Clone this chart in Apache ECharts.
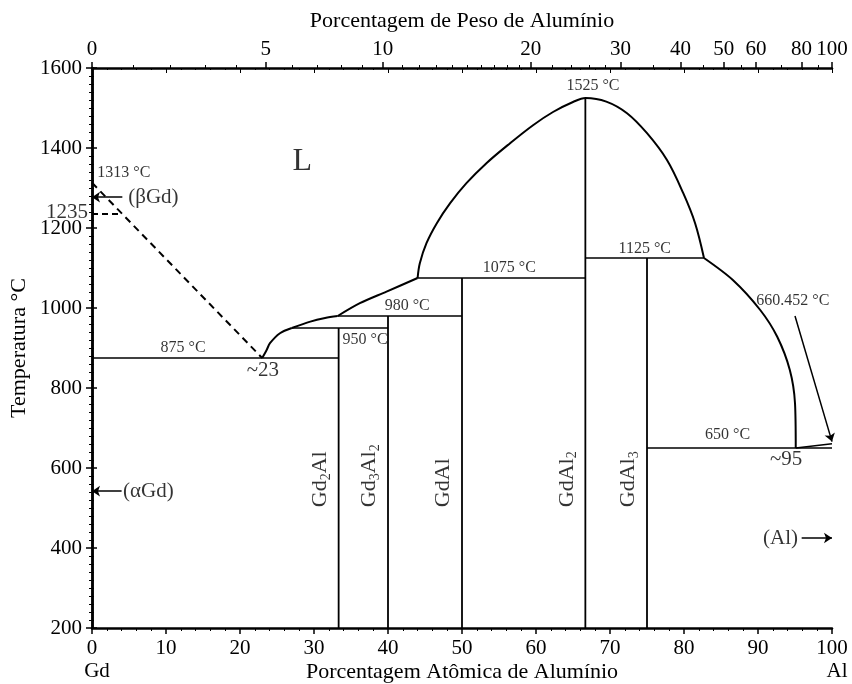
<!DOCTYPE html>
<html><head><meta charset="utf-8">
<script src="https://cdn.jsdelivr.net/npm/echarts@6/dist/echarts.min.js"></script>
<style>html,body{margin:0;padding:0;background:#fff}#c{width:852px;height:684px}</style>
</head><body><div id="c"></div>
<script>
// ---------- DATA ----------
const weightTickLabels = [0, 5, 10, 20, 30, 40, 50, 60, 80, 100];
const weightMinorTicks = [1,2,3,4,6,7,8,9,11,12,13,14,15,16,17,18,19,22,24,26,28,35,45,55,70,90];
const M_AL = 26.98, M_GD = 157.25;

// phase boundaries: [at.% Al, °C]
const liquidusGdDashed = [[0, 1313], [23, 875]];
const betaGdDashed = [[0, 1235], [3.9, 1235]];
const liquidusA = [[23, 875], [23.6, 895], [24.05, 912], [25.4, 937], [27, 950]];
const liquidusB = [[27, 950], [29.5, 966], [31.5, 975], [33.2, 980]];
const liquidusC = [[33.2, 980], [36.2, 1012], [39.8, 1041], [44, 1075]];
const liquidusDome = [[44, 1075], [44.3, 1112], [45.2, 1162], [46.6, 1212], [48.4, 1262], [50.6, 1312],
  [53.3, 1362], [56.5, 1412], [59.6, 1457], [62.3, 1490], [65, 1515], [66.7, 1525],
  [69.5, 1516], [72.3, 1487], [75, 1437], [77.7, 1370], [79.9, 1287], [81.5, 1212], [82.7, 1125]];
const liquidusAl = [[82.7, 1125], [86.6, 1070], [90.3, 995], [92.6, 928], [94.3, 845], [95, 762], [95.1, 650]];
const alSide = [[95.1, 650], [100, 660.452]];

// invariant (horizontal) lines
const invariantT = [875, 950, 980, 1075, 1125, 650];
const invariantFrom = [0, 27, 33.2, 44, 66.7, 75];
const invariantTo = [33.33, 40, 50, 66.67, 82.7, 100];

// compounds (vertical lines)
const compoundX = [33.33, 40, 50, 66.67, 75];
const compoundTop = [950, 980, 1075, 1525, 1125];
const compoundNames = ['Gd{s|2}Al', 'Gd{s|3}Al{s|2}', 'GdAl', 'GdAl{s|2}', 'GdAl{s|3}'];

// annotations
const labelTexts = ['L', '1313 °C', '(βGd)', '875 °C', '~23', '950 °C', '980 °C', '1075 °C', '1525 °C',
  '1125 °C', '660.452 °C', '650 °C', '~95', '(αGd)', '(Al)', '1235'];
const labelX = [28.4, 4.3, 4.9, 12.3, 23.1, 36.9, 42.6, 56.4, 67.7, 74.7, 94.7, 85.9, 93.8, 4.2, 95.4, 0];
const labelY = [1365, 1337, 1277, 900, 843, 920, 1005, 1100, 1555, 1148, 1017, 682, 622, 542, 425, 1238];

// arrows [from, to]
const arrowFrom = [[4.1, 1277], [4.0, 542], [95.9, 425], [95.0, 980]];
const arrowTo = [[0, 1277], [0, 542], [100, 425], [100, 666]];

// ---------- CHART ----------
const FONT = '"Liberation Serif", "Times New Roman", serif';
function wtToAt(w) { if (w >= 100) return 100; const al = w / M_AL, gd = (100 - w) / M_GD; return 100 * al / (al + gd); }
const topTickPos = weightTickLabels.map(wtToAt);
const topMinorPos = weightMinorTicks.map(wtToAt);

const big = { '(βGd)': 1, '(αGd)': 1, '(Al)': 1, '~23': 1, '~95': 1, '1235': 1 };
const leftAlign = { '(βGd)': 1, '(αGd)': 1 };
const rightAlign = { '(Al)': 1 };

const series = [];
function addLine(data, opts) {
  series.push(Object.assign({
    type: 'line', data: data, symbol: 'none', showSymbol: false, silent: true,
    lineStyle: { color: '#000', width: 2 }, xAxisIndex: 0, yAxisIndex: 0, z: 3
  }, opts || {}));
}
addLine(liquidusGdDashed, { lineStyle: { color: '#000', width: 2, type: [7, 5] } });
addLine(betaGdDashed, { lineStyle: { color: '#000', width: 2, type: [6, 4] } });
addLine(liquidusA, { smooth: 0.3 });
addLine(liquidusB, { smooth: 0.3 });
addLine(liquidusC, { smooth: 0.3 });
addLine(liquidusDome, { smooth: 0.35 });
addLine(liquidusAl, { smooth: 0.3 });
addLine(alSide, { lineStyle: { color: '#000', width: 1.5 } });
invariantT.forEach((t, i) => addLine([[invariantFrom[i], t], [invariantTo[i], t]], { lineStyle: { color: '#000', width: 1.6 } }));
compoundX.forEach((x, i) => addLine([[x, 200], [x, compoundTop[i]]], { lineStyle: { color: '#000', width: 1.8 } }));

// arrows
series.push({
  type: 'line', data: [], silent: true,
  markLine: {
    silent: true, animation: false, symbol: ['none', 'arrow'], symbolSize: 8,
    label: { show: false },
    lineStyle: { color: '#000', width: 1.5, type: 'solid' },
    data: arrowFrom.map((f, i) => [{ coord: f }, { coord: arrowTo[i] }])
  }
});

// annotation labels
series.push({
  type: 'scatter', symbolSize: 0, silent: true, clip: false, z: 5,
  data: labelTexts.map((t, i) => {
    let size = 16, align = 'center';
    if (t === 'L') size = 32;
    else if (big[t]) size = 21;
    if (leftAlign[t]) align = 'left';
    if (rightAlign[t] || t === '1235') align = 'right';
    return {
      value: [labelX[i], labelY[i]],
      label: {
        show: true, position: 'inside', formatter: t, color: '#000', fontFamily: FONT, fontSize: size,
        align: align, verticalAlign: 'middle', offset: t === '1235' ? [-4, 0] : [0, 0]
      }
    };
  })
});

// compound labels (rotated)
series.push({
  type: 'scatter', symbolSize: 0, silent: true, clip: false, z: 5,
  data: compoundNames.map((n, i) => ({
    value: [compoundX[i] - 0.75, 502],
    label: {
      show: true, position: 'inside', formatter: n, rotate: 90, align: 'left', verticalAlign: 'bottom',
      color: '#000', fontFamily: FONT, fontSize: 22, lineHeight: 26,
      rich: { s: { fontSize: 14, fontFamily: FONT, color: '#000', verticalAlign: 'bottom', lineHeight: 14 } }
    }
  }))
});

const axisLine = { show: true, lineStyle: { color: '#000', width: 2.5 } };
const tickStyle = { color: '#000', width: 1.5 };
const labelStyle = { color: '#000', fontFamily: FONT, fontSize: 21 };
const nameStyle = { color: '#000', fontFamily: FONT, fontSize: 22 };

const option = {
  animation: false,
  backgroundColor: '#fff',
  grid: { left: 92, right: 20, top: 68, bottom: 56, containLabel: false, outerBoundsMode: 'none' },
  xAxis: [
    {
      type: 'value', position: 'bottom', min: 0, max: 100, interval: 10,
      axisLine: axisLine, splitLine: { show: false },
      axisTick: { show: true, length: 6, lineStyle: tickStyle },
      minorTick: { show: true, splitNumber: 5, length: 3, lineStyle: { color: '#000', width: 1 } },
      axisLabel: Object.assign({ margin: 9, showMinLabel: true, showMaxLabel: true,
        formatter: v => v === 0 ? '0\n{e|Gd}' : (v === 100 ? '100\n{e|Al}' : String(v)),
        lineHeight: 23,
        rich: { e: { fontFamily: FONT, fontSize: 21, color: '#000', lineHeight: 23, padding: [0, 0, 0, 10] } } }, labelStyle),
      name: 'Porcentagem Atômica de Alumínio', nameLocation: 'middle', nameGap: 33, nameMoveOverlap: false,
      nameTextStyle: nameStyle
    },
    {
      type: 'value', position: 'top', min: 0, max: 100,
      axisLine: axisLine, splitLine: { show: false },
      axisTick: { show: true, length: 6, lineStyle: tickStyle, customValues: topTickPos },
      axisLabel: Object.assign({ margin: 8, showMinLabel: true, showMaxLabel: true, customValues: topTickPos,
        formatter: v => { const i = topTickPos.findIndex(p => Math.abs(p - v) < 1e-6); return i >= 0 ? String(weightTickLabels[i]) : ''; } }, labelStyle),
      name: 'Porcentagem de Peso de Alumínio', nameLocation: 'middle', nameGap: 36, nameMoveOverlap: false,
      nameTextStyle: nameStyle
    },
    {
      type: 'value', position: 'top', min: 0, max: 100, interval: 10,
      axisLine: { show: false }, splitLine: { show: false }, axisLabel: { show: false },
      axisTick: { show: true, inside: true, length: 5, lineStyle: { color: '#000', width: 1 } },
      minorTick: { show: true, splitNumber: 5, length: 2, lineStyle: { color: '#000', width: 1 } }
    },
    {
      type: 'value', position: 'top', min: 0, max: 100,
      axisLine: { show: false }, splitLine: { show: false }, axisLabel: { show: false },
      axisTick: { show: true, length: 3, lineStyle: { color: '#000', width: 1 }, customValues: topMinorPos }
    }
  ],
  yAxis: [
    {
      type: 'value', position: 'left', min: 200, max: 1600, interval: 200,
      axisLine: axisLine, splitLine: { show: false },
      axisTick: { show: true, length: 6, lineStyle: tickStyle },
      minorTick: { show: true, splitNumber: 10, length: 3, lineStyle: { color: '#000', width: 1 } },
      axisLabel: Object.assign({ margin: 10, showMinLabel: true, showMaxLabel: true, formatter: v => String(v) }, labelStyle),
      name: 'Temperatura °C', nameLocation: 'middle', nameGap: 62, nameRotate: 90, nameMoveOverlap: false,
      nameTextStyle: nameStyle
    },
    {
      type: 'value', position: 'right', min: 200, max: 1600, interval: 200,
      axisLine: axisLine, splitLine: { show: false }, axisLabel: { show: false },
      axisTick: { show: true, length: 5, lineStyle: tickStyle },
      minorTick: { show: true, splitNumber: 10, length: 2, lineStyle: { color: '#000', width: 1 } }
    }
  ],
  series: series
};
const chart = echarts.init(document.getElementById('c'));
chart.setOption(option);
</script>
</body></html>
